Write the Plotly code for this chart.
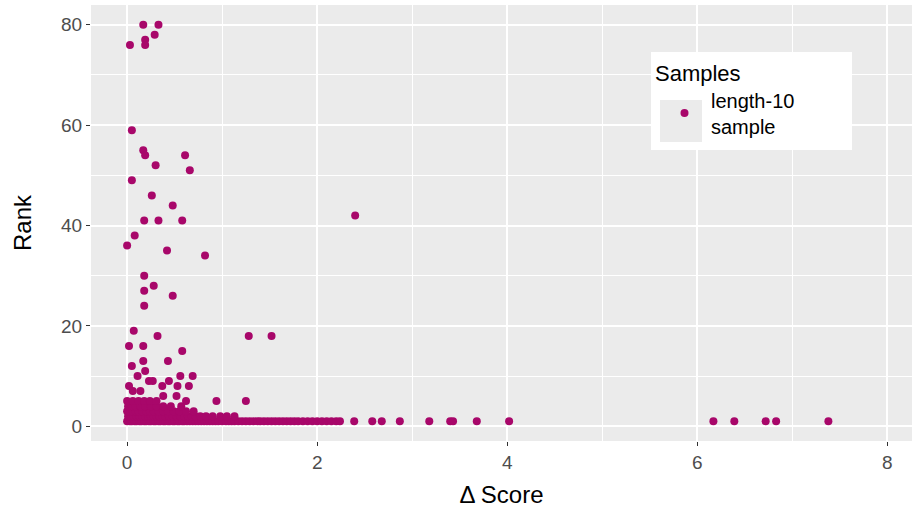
import plotly.graph_objects as go

# Delta score vs. rank for the length-10 sample
# Points grouped by rank in the dense bottom band, then the scattered ones
rank1_scores = [0.00, 0.03, 0.05, 0.08, 0.10, 0.13, 0.15, 0.18, 0.20, 0.23, 0.25, 0.28,
                0.30, 0.33, 0.35, 0.38, 0.40, 0.43, 0.45, 0.48, 0.50, 0.53, 0.55, 0.58,
                0.60, 0.63, 0.66, 0.69, 0.72, 0.75, 0.78, 0.81, 0.84, 0.87, 0.90, 0.93,
                0.96, 1.00, 1.04, 1.07, 1.10, 1.13, 1.17, 1.21, 1.25, 1.29, 1.33, 1.37,
                1.40, 1.44, 1.48, 1.52, 1.56, 1.60, 1.64, 1.68, 1.72, 1.76, 1.80, 1.85,
                1.90, 1.95, 2.00, 2.05, 2.10, 2.15, 2.20, 2.24, 2.39, 2.58, 2.68, 2.87,
                3.18, 3.40, 3.43, 3.68, 4.02, 6.17, 6.39, 6.72, 6.83, 7.38]
rank2_scores = [0.01, 0.04, 0.07, 0.10, 0.13, 0.16, 0.19, 0.22, 0.25, 0.28, 0.31, 0.34,
                0.37, 0.40, 0.44, 0.48, 0.52, 0.56, 0.60, 0.64, 0.68, 0.72, 0.77, 0.83,
                0.90, 0.98, 1.05, 1.13]
rank3_scores = [0.00, 0.03, 0.06, 0.09, 0.12, 0.16, 0.20, 0.24, 0.28, 0.33, 0.38, 0.43,
                0.49, 0.55, 0.62, 0.70]
rank4_scores = [0.01, 0.05, 0.09, 0.14, 0.19, 0.25, 0.31, 0.38, 0.46, 0.57]
rank5_scores = [0.00, 0.06, 0.12, 0.18, 0.24, 0.31]

other_scores = [0.17, 0.33, 0.29, 0.03, 0.19, 0.19, 0.05, 0.17, 0.19, 0.61, 0.30, 0.66,
                0.05, 0.26, 0.48, 0.18, 0.33, 0.58, 2.40, 0.08, 0.00, 0.42, 0.82, 0.18,
                0.28, 0.18, 0.48, 0.18, 0.07, 0.32, 1.28, 1.52, 0.02, 0.17, 0.58, 0.17,
                0.43, 0.05, 0.19, 0.11, 0.56, 0.69, 0.23, 0.27, 0.44, 0.02, 0.37, 0.53,
                0.65, 0.06, 0.14, 0.38, 0.52, 0.62, 0.94, 1.25]
other_ranks = [80, 80, 78, 76, 77, 76, 59, 55, 54, 54, 52, 51,
               49, 46, 44, 41, 41, 41, 42, 38, 36, 35, 34, 30,
               28, 27, 26, 24, 19, 18, 18, 18, 16, 16, 15, 13,
               13, 12, 11, 10, 10, 10, 9, 9, 9, 8, 8, 8,
               8, 7, 7, 6, 6, 5, 5, 5]

x_ticks = [0, 2, 4, 6, 8]
y_ticks = [0, 20, 40, 60, 80]

delta_score = (rank1_scores + rank2_scores + rank3_scores + rank4_scores
               + rank5_scores + other_scores)
rank = ([1] * len(rank1_scores) + [2] * len(rank2_scores) + [3] * len(rank3_scores)
        + [4] * len(rank4_scores) + [5] * len(rank5_scores) + other_ranks)

POINT = "#A8076A"
PANEL = "#EBEBEB"
FONT = "Liberation Sans, Arial, Helvetica, sans-serif"

fig = go.Figure()
fig.add_trace(go.Scatter(
    x=delta_score, y=rank, mode="markers",
    name="length-10<br>sample",
    marker=dict(color=POINT, size=8, line=dict(width=0)),
))

axis_common = dict(
    showline=False, zeroline=False,
    gridcolor="white", gridwidth=1.6,
    ticks="outside", ticklen=4, tickwidth=1.2, tickcolor="#333333",
    tickfont=dict(family=FONT, size=19, color="#4D4D4D"),
)

fig.update_xaxes(
    range=[-0.38, 8.26], tickvals=x_ticks,
    minor=dict(dtick=1, tick0=0, showgrid=True, gridcolor="white", gridwidth=0.7, ticks=""),
    title=dict(text="Δ Score", font=dict(family=FONT, size=24, color="black"), standoff=14),
    **axis_common,
)
fig.update_yaxes(
    range=[-2.95, 83.95], tickvals=y_ticks,
    minor=dict(dtick=10, tick0=0, showgrid=True, gridcolor="white", gridwidth=0.7, ticks=""),
    title=dict(text="Rank", font=dict(family=FONT, size=24, color="black"), standoff=22),
    **axis_common,
)

# legend box and grey key background
fig.add_shape(type="rect", xref="paper", yref="paper", layer="above",
              x0=(651 - 91) / 821, x1=(852 - 91) / 821,
              y0=(441 - 150) / 436, y1=(441 - 52) / 436,
              fillcolor="white", line=dict(width=0))
fig.add_shape(type="rect", xref="paper", yref="paper", layer="above",
              x0=(660 - 91) / 821, x1=(702 - 91) / 821,
              y0=(441 - 142) / 436, y1=(441 - 100) / 436,
              fillcolor=PANEL, line=dict(width=0))

fig.update_layout(
    width=917, height=514,
    margin=dict(l=91, r=5, t=5, b=73),
    paper_bgcolor="white", plot_bgcolor=PANEL,
    font=dict(family=FONT),
    showlegend=True,
    legend=dict(
        title=dict(text="Samples", font=dict(family=FONT, size=22, color="black")),
        font=dict(family=FONT, size=20, color="black"),
        bgcolor="rgba(0,0,0,0)",
        x=(653 - 91) / 821, y=(441 - 52) / 436, xanchor="left", yanchor="top",
        indentation=5, itemwidth=43,
    ),
)

fig.write_html("out.html")
